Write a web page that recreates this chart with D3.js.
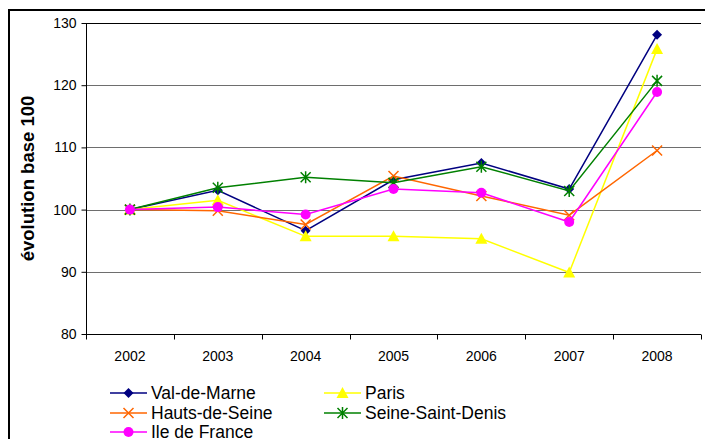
<!DOCTYPE html>
<html>
<head>
<meta charset="utf-8">
<script src="https://cdn.jsdelivr.net/npm/d3@7"></script>
<style>
  body { margin: 0; background: #fff; }
  svg { display: block; font-family: Arial, "Liberation Sans", sans-serif; }
</style>
</head>
<body>
<div id="chart"></div>
<script>
const years = ['2002', '2003', '2004', '2005', '2006', '2007', '2008'];
const valDeMarne = [100, 103.1, 96.6, 104.8, 107.5, 103.3, 128.1];
const paris = [100, 101.5, 95.7, 95.7, 95.3, 89.9, 125.8];
const hautsDeSeine = [100, 99.8, 97.6, 105.4, 102.2, 99.1, 109.5];
const seineSaintDenis = [100, 103.5, 105.2, 104.3, 106.9, 103.0, 120.7];
const ileDeFrance = [100, 100.4, 99.2, 103.3, 102.7, 98.0, 118.9];
const yTicks = [80, 90, 100, 110, 120, 130];

const series = [
  { name: 'Val-de-Marne', values: valDeMarne, color: '#000080', marker: 'diamond' },
  { name: 'Paris', values: paris, color: '#FFFF00', marker: 'triangle' },
  { name: 'Hauts-de-Seine', values: hautsDeSeine, color: '#FF6600', marker: 'x' },
  { name: 'Seine-Saint-Denis', values: seineSaintDenis, color: '#008000', marker: 'star' },
  { name: 'Ile de France', values: ileDeFrance, color: '#FF00FF', marker: 'circle' }
];

const w = 705, h = 439;
const m = { left: 86, top: 23, right: 701, bottom: 334 };

const svg = d3.select('#chart').append('svg')
  .attr('width', w)
  .attr('height', h);

// outer frame
svg.append('rect')
  .attr('x', 9).attr('y', 10)
  .attr('width', 710).attr('height', 440)
  .attr('fill', 'none')
  .attr('stroke', '#000')
  .attr('stroke-width', 2);

const x = d3.scaleBand().domain(years).range([m.left, m.right]);
const y = d3.scaleLinear().domain([80, 130]).range([m.bottom, m.top]);

// gridlines
svg.append('g')
  .selectAll('line')
  .data(yTicks.filter(t => t > 80))
  .enter()
  .append('line')
  .attr('x1', m.left).attr('x2', m.right)
  .attr('y1', d => Math.round(y(d)) + 0.5)
  .attr('y2', d => Math.round(y(d)) + 0.5)
  .attr('stroke', d => d === 130 ? '#000' : '#6e6e6e')
  .attr('stroke-width', 1);

// y axis
const yAxis = svg.append('g')
  .attr('transform', `translate(${m.left + 0.5},0)`)
  .call(d3.axisLeft(y).tickValues(yTicks).tickSize(5).tickPadding(5));
yAxis.selectAll('text').attr('font-size', 14).attr('fill', '#000');
yAxis.select('.domain').attr('d', `M0,${m.top}V${m.bottom}`);

// x axis with ticks at band boundaries
const xAxis = svg.append('g')
  .attr('transform', `translate(0,${m.bottom + 0.5})`);
xAxis.append('line')
  .attr('x1', m.left).attr('x2', m.right)
  .attr('stroke', '#000');
xAxis.selectAll('line.tick')
  .data(years.concat(['end']))
  .enter()
  .append('line')
  .attr('class', 'tick')
  .attr('x1', (d, i) => Math.round(m.left + i * x.bandwidth()) + 0.5)
  .attr('x2', (d, i) => Math.round(m.left + i * x.bandwidth()) + 0.5)
  .attr('y1', 0).attr('y2', 5)
  .attr('stroke', '#000');
xAxis.selectAll('text')
  .data(years)
  .enter()
  .append('text')
  .attr('x', d => x(d) + x.bandwidth() / 2)
  .attr('y', 26)
  .attr('text-anchor', 'middle')
  .attr('font-size', 14)
  .text(d => d);

// y axis title
svg.append('text')
  .attr('transform', `translate(34,${(m.top + m.bottom) / 2}) rotate(-90)`)
  .attr('text-anchor', 'middle')
  .attr('font-size', 18.5)
  .attr('font-weight', 'bold')
  .text('évolution base 100');

const drawMarker = (g, type, color) => {
  if (type === 'diamond') {
    g.append('path').attr('d', 'M0,-5L5,0L0,5L-5,0Z').attr('fill', color);
  } else if (type === 'triangle') {
    g.append('path').attr('d', 'M0,-6L6,5L-6,5Z').attr('fill', color);
  } else if (type === 'x') {
    g.append('path').attr('d', 'M-5,-5L5,5M-5,5L5,-5').attr('stroke', color).attr('stroke-width', 1.5);
  } else if (type === 'star') {
    g.append('path').attr('d', 'M-5,-5L5,5M-5,5L5,-5M0,-6V6').attr('stroke', color).attr('stroke-width', 1.5);
  } else {
    g.append('circle').attr('r', 5).attr('fill', color);
  }
};

const line = d3.line()
  .x((d, i) => x(years[i]) + x.bandwidth() / 2)
  .y(d => y(d));

series.forEach(s => {
  svg.append('path')
    .datum(s.values)
    .attr('d', line)
    .attr('fill', 'none')
    .attr('stroke', s.color)
    .attr('stroke-width', 1.5);
  s.values.forEach((v, i) => {
    const g = svg.append('g')
      .attr('transform', `translate(${x(years[i]) + x.bandwidth() / 2},${y(v)})`);
    drawMarker(g, s.marker, s.color);
  });
});

// legend
const legendPos = [
  { x: 110, y: 393 }, { x: 324, y: 393 },
  { x: 110, y: 413 }, { x: 324, y: 413 },
  { x: 110, y: 432 }
];
series.forEach((s, i) => {
  const p = legendPos[i];
  const g = svg.append('g').attr('transform', `translate(${p.x},${p.y})`);
  g.append('line')
    .attr('x1', 0).attr('x2', 37)
    .attr('stroke', s.color)
    .attr('stroke-width', 1.5);
  const mk = g.append('g').attr('transform', 'translate(18.5,0)');
  drawMarker(mk, s.marker, s.color);
  g.append('text')
    .attr('x', 41)
    .attr('y', 6)
    .attr('font-size', 17.5)
    .text(s.name);
});
</script>
</body>
</html>
